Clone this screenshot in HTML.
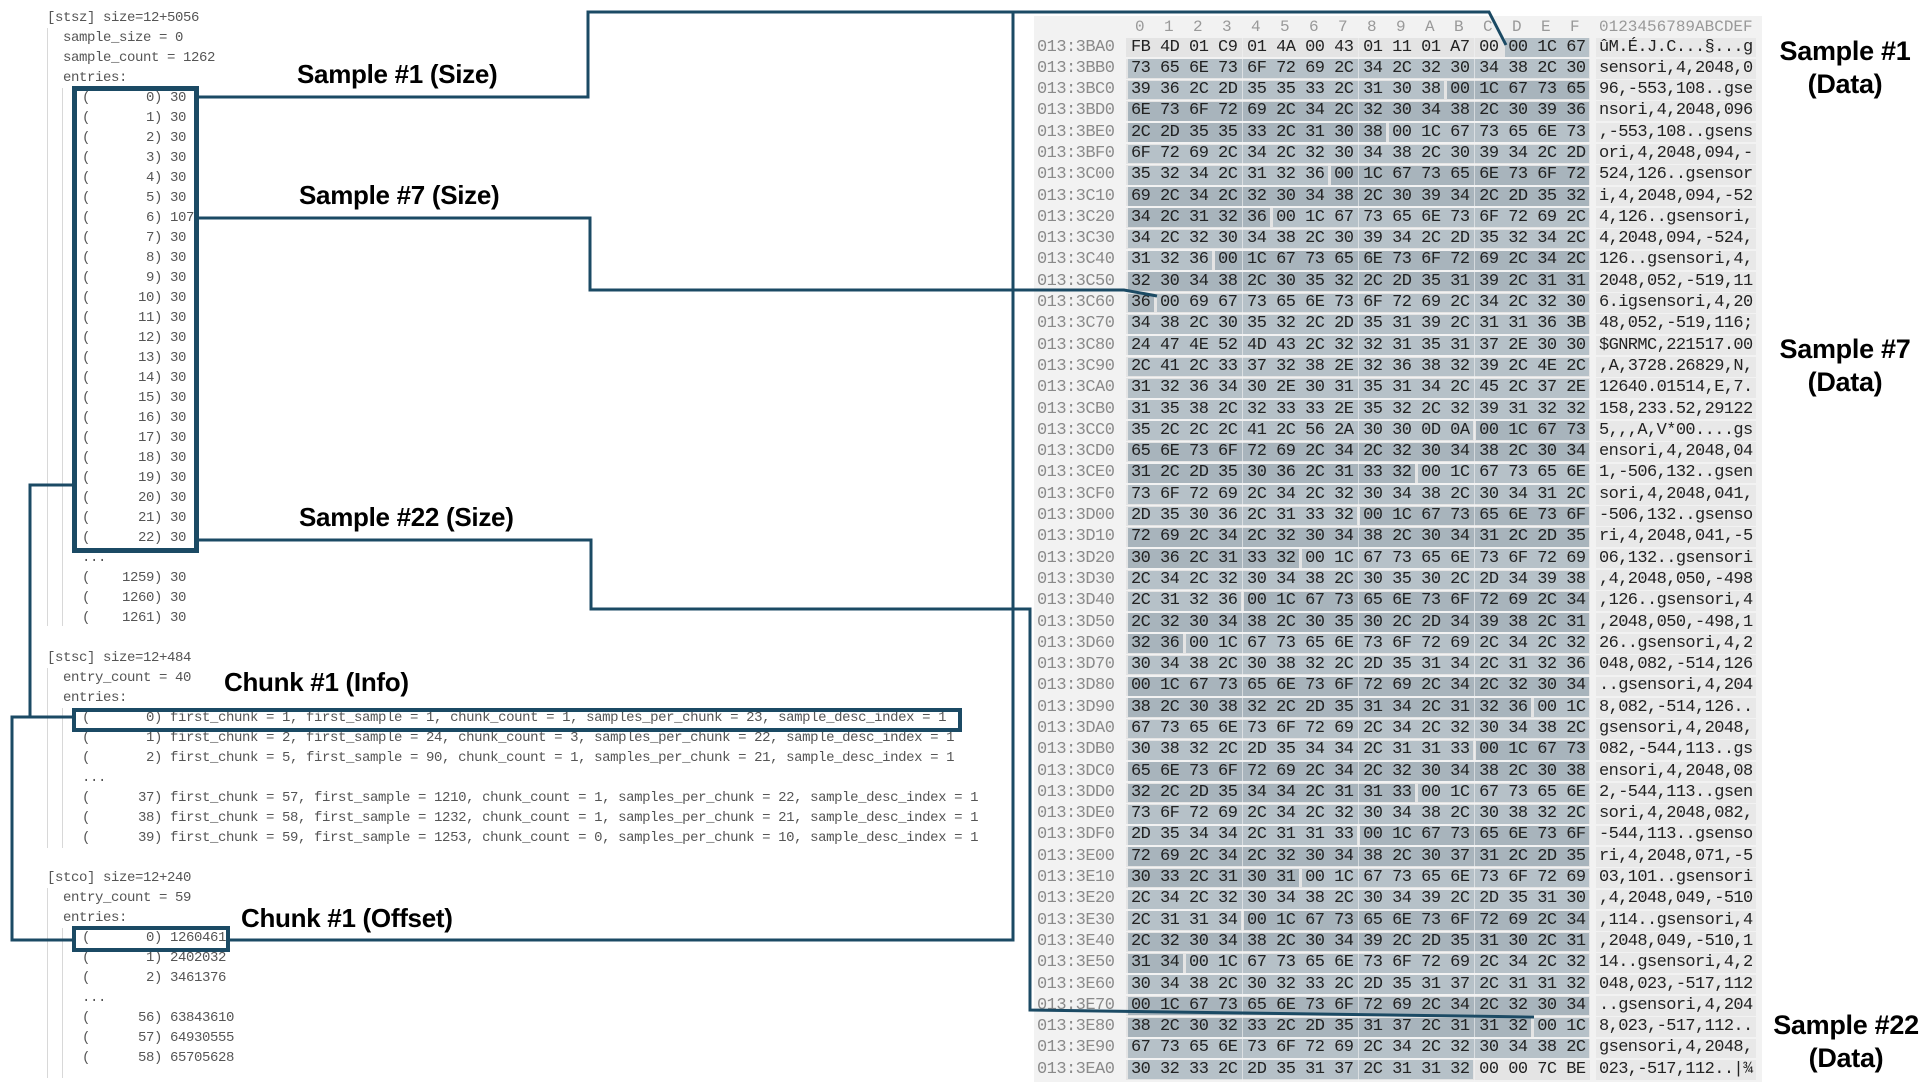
<!DOCTYPE html>
<html><head><meta charset="utf-8">
<style>
*{margin:0;padding:0;box-sizing:border-box}
body{width:1928px;height:1082px;background:#fff;position:relative;overflow:hidden;font-family:"Liberation Mono",monospace}
.t{position:absolute;font-size:14px;letter-spacing:-0.4px;line-height:20px;color:#555;white-space:pre}
.g{position:absolute;width:1px;background:#d8d8d8}
.box{position:absolute;border:5px solid #1b4a64}
.lb{position:absolute;font-family:"Liberation Sans",sans-serif;font-weight:bold;font-size:26px;line-height:30px;color:#000;white-space:nowrap;letter-spacing:-0.3px}
.rl{position:absolute;font-family:"Liberation Sans",sans-serif;font-weight:bold;font-size:27px;line-height:33px;color:#000;text-align:center;width:160px;letter-spacing:-0.3px}
#panel{position:absolute;left:1034px;top:16px;width:728px;height:1066px;background:#f2f2f2}
#hl{position:absolute;left:0;top:0}
#rows{position:absolute;left:0;top:36.5px}
.r{position:relative;height:21.3px;line-height:21.3px;font-size:17px;white-space:pre}
.a{position:absolute;left:1037px;color:#8a8a8a;letter-spacing:-0.53px}
.h{position:absolute;left:1131px;color:#222;letter-spacing:-0.53px}
.s{position:absolute;left:1599px;color:#222;letter-spacing:-0.6px}
.hd{position:absolute;top:16px;line-height:22px;font-size:16px;color:#999}
</style></head><body>
<div id="panel"></div>
<div id="hl"></div>

<div class="g" style="left:47px;top:28px;height:598px"></div>
<div class="g" style="left:62px;top:88px;height:538px"></div>
<div class="g" style="left:47px;top:668px;height:180px"></div>
<div class="g" style="left:62px;top:708px;height:140px"></div>
<div class="g" style="left:47px;top:888px;height:190px"></div>
<div class="g" style="left:62px;top:928px;height:150px"></div>

<div class="t" style="left:47px;top:8px">[stsz] size=12+5056</div>
<div class="t" style="left:63px;top:28px">sample_size = 0
sample_count = 1262
entries:</div>
<div class="t" style="left:82px;top:88px">(       0) 30
(       1) 30
(       2) 30
(       3) 30
(       4) 30
(       5) 30
(       6) 107
(       7) 30
(       8) 30
(       9) 30
(      10) 30
(      11) 30
(      12) 30
(      13) 30
(      14) 30
(      15) 30
(      16) 30
(      17) 30
(      18) 30
(      19) 30
(      20) 30
(      21) 30
(      22) 30
...
(    1259) 30
(    1260) 30
(    1261) 30</div>

<div class="t" style="left:47px;top:648px">[stsc] size=12+484</div>
<div class="t" style="left:63px;top:668px">entry_count = 40
entries:</div>
<div class="t" style="left:82px;top:708px">(       0) first_chunk = 1, first_sample = 1, chunk_count = 1, samples_per_chunk = 23, sample_desc_index = 1
(       1) first_chunk = 2, first_sample = 24, chunk_count = 3, samples_per_chunk = 22, sample_desc_index = 1
(       2) first_chunk = 5, first_sample = 90, chunk_count = 1, samples_per_chunk = 21, sample_desc_index = 1
...
(      37) first_chunk = 57, first_sample = 1210, chunk_count = 1, samples_per_chunk = 22, sample_desc_index = 1
(      38) first_chunk = 58, first_sample = 1232, chunk_count = 1, samples_per_chunk = 21, sample_desc_index = 1
(      39) first_chunk = 59, first_sample = 1253, chunk_count = 0, samples_per_chunk = 10, sample_desc_index = 1</div>

<div class="t" style="left:47px;top:868px">[stco] size=12+240</div>
<div class="t" style="left:63px;top:888px">entry_count = 59
entries:</div>
<div class="t" style="left:82px;top:928px">(       0) 1260461
(       1) 2402032
(       2) 3461376
...
(      56) 63843610
(      57) 64930555
(      58) 65705628</div>

<div class="box" style="left:72px;top:86px;width:127px;height:467px"></div>
<div class="box" style="left:72px;top:708px;width:890px;height:24px;border-width:4px"></div>
<div class="box" style="left:72px;top:926px;width:158px;height:26px;border-width:4.5px"></div>

<div class="lb" style="left:297px;top:59px">Sample #1 (Size)</div>
<div class="lb" style="left:299px;top:180px">Sample #7 (Size)</div>
<div class="lb" style="left:299px;top:502px">Sample #22 (Size)</div>
<div class="lb" style="left:224px;top:667px">Chunk #1 (Info)</div>
<div class="lb" style="left:241px;top:903px">Chunk #1 (Offset)</div>

<div class="rl" style="left:1765px;top:35px">Sample #1<br>(Data)</div>
<div class="rl" style="left:1765px;top:333px">Sample #7<br>(Data)</div>
<div class="rl" style="left:1766px;top:1009px">Sample #22<br>(Data)</div>

<div class="hd" style="left:1135px">0</div><div class="hd" style="left:1164px">1</div><div class="hd" style="left:1193px">2</div><div class="hd" style="left:1222px">3</div><div class="hd" style="left:1251px">4</div><div class="hd" style="left:1280px">5</div><div class="hd" style="left:1309px">6</div><div class="hd" style="left:1338px">7</div><div class="hd" style="left:1367px">8</div><div class="hd" style="left:1396px">9</div><div class="hd" style="left:1425px">A</div><div class="hd" style="left:1454px">B</div><div class="hd" style="left:1483px">C</div><div class="hd" style="left:1512px">D</div><div class="hd" style="left:1541px">E</div><div class="hd" style="left:1570px">F</div>
<div class="hd" style="left:1599px">0123456789ABCDEF</div>

<div id="rows">
<div class="r"><span class="a">013:3BA0</span><span class="h">FB 4D 01 C9 01 4A 00 43 01 11 01 A7 00 00 1C 67</span><span class="s">ûM.É.J.C...§...g</span></div>
<div class="r"><span class="a">013:3BB0</span><span class="h">73 65 6E 73 6F 72 69 2C 34 2C 32 30 34 38 2C 30</span><span class="s">sensori,4,2048,0</span></div>
<div class="r"><span class="a">013:3BC0</span><span class="h">39 36 2C 2D 35 35 33 2C 31 30 38 00 1C 67 73 65</span><span class="s">96,-553,108..gse</span></div>
<div class="r"><span class="a">013:3BD0</span><span class="h">6E 73 6F 72 69 2C 34 2C 32 30 34 38 2C 30 39 36</span><span class="s">nsori,4,2048,096</span></div>
<div class="r"><span class="a">013:3BE0</span><span class="h">2C 2D 35 35 33 2C 31 30 38 00 1C 67 73 65 6E 73</span><span class="s">,-553,108..gsens</span></div>
<div class="r"><span class="a">013:3BF0</span><span class="h">6F 72 69 2C 34 2C 32 30 34 38 2C 30 39 34 2C 2D</span><span class="s">ori,4,2048,094,-</span></div>
<div class="r"><span class="a">013:3C00</span><span class="h">35 32 34 2C 31 32 36 00 1C 67 73 65 6E 73 6F 72</span><span class="s">524,126..gsensor</span></div>
<div class="r"><span class="a">013:3C10</span><span class="h">69 2C 34 2C 32 30 34 38 2C 30 39 34 2C 2D 35 32</span><span class="s">i,4,2048,094,-52</span></div>
<div class="r"><span class="a">013:3C20</span><span class="h">34 2C 31 32 36 00 1C 67 73 65 6E 73 6F 72 69 2C</span><span class="s">4,126..gsensori,</span></div>
<div class="r"><span class="a">013:3C30</span><span class="h">34 2C 32 30 34 38 2C 30 39 34 2C 2D 35 32 34 2C</span><span class="s">4,2048,094,-524,</span></div>
<div class="r"><span class="a">013:3C40</span><span class="h">31 32 36 00 1C 67 73 65 6E 73 6F 72 69 2C 34 2C</span><span class="s">126..gsensori,4,</span></div>
<div class="r"><span class="a">013:3C50</span><span class="h">32 30 34 38 2C 30 35 32 2C 2D 35 31 39 2C 31 31</span><span class="s">2048,052,-519,11</span></div>
<div class="r"><span class="a">013:3C60</span><span class="h">36 00 69 67 73 65 6E 73 6F 72 69 2C 34 2C 32 30</span><span class="s">6.igsensori,4,20</span></div>
<div class="r"><span class="a">013:3C70</span><span class="h">34 38 2C 30 35 32 2C 2D 35 31 39 2C 31 31 36 3B</span><span class="s">48,052,-519,116;</span></div>
<div class="r"><span class="a">013:3C80</span><span class="h">24 47 4E 52 4D 43 2C 32 32 31 35 31 37 2E 30 30</span><span class="s">$GNRMC,221517.00</span></div>
<div class="r"><span class="a">013:3C90</span><span class="h">2C 41 2C 33 37 32 38 2E 32 36 38 32 39 2C 4E 2C</span><span class="s">,A,3728.26829,N,</span></div>
<div class="r"><span class="a">013:3CA0</span><span class="h">31 32 36 34 30 2E 30 31 35 31 34 2C 45 2C 37 2E</span><span class="s">12640.01514,E,7.</span></div>
<div class="r"><span class="a">013:3CB0</span><span class="h">31 35 38 2C 32 33 33 2E 35 32 2C 32 39 31 32 32</span><span class="s">158,233.52,29122</span></div>
<div class="r"><span class="a">013:3CC0</span><span class="h">35 2C 2C 2C 41 2C 56 2A 30 30 0D 0A 00 1C 67 73</span><span class="s">5,,,A,V*00....gs</span></div>
<div class="r"><span class="a">013:3CD0</span><span class="h">65 6E 73 6F 72 69 2C 34 2C 32 30 34 38 2C 30 34</span><span class="s">ensori,4,2048,04</span></div>
<div class="r"><span class="a">013:3CE0</span><span class="h">31 2C 2D 35 30 36 2C 31 33 32 00 1C 67 73 65 6E</span><span class="s">1,-506,132..gsen</span></div>
<div class="r"><span class="a">013:3CF0</span><span class="h">73 6F 72 69 2C 34 2C 32 30 34 38 2C 30 34 31 2C</span><span class="s">sori,4,2048,041,</span></div>
<div class="r"><span class="a">013:3D00</span><span class="h">2D 35 30 36 2C 31 33 32 00 1C 67 73 65 6E 73 6F</span><span class="s">-506,132..gsenso</span></div>
<div class="r"><span class="a">013:3D10</span><span class="h">72 69 2C 34 2C 32 30 34 38 2C 30 34 31 2C 2D 35</span><span class="s">ri,4,2048,041,-5</span></div>
<div class="r"><span class="a">013:3D20</span><span class="h">30 36 2C 31 33 32 00 1C 67 73 65 6E 73 6F 72 69</span><span class="s">06,132..gsensori</span></div>
<div class="r"><span class="a">013:3D30</span><span class="h">2C 34 2C 32 30 34 38 2C 30 35 30 2C 2D 34 39 38</span><span class="s">,4,2048,050,-498</span></div>
<div class="r"><span class="a">013:3D40</span><span class="h">2C 31 32 36 00 1C 67 73 65 6E 73 6F 72 69 2C 34</span><span class="s">,126..gsensori,4</span></div>
<div class="r"><span class="a">013:3D50</span><span class="h">2C 32 30 34 38 2C 30 35 30 2C 2D 34 39 38 2C 31</span><span class="s">,2048,050,-498,1</span></div>
<div class="r"><span class="a">013:3D60</span><span class="h">32 36 00 1C 67 73 65 6E 73 6F 72 69 2C 34 2C 32</span><span class="s">26..gsensori,4,2</span></div>
<div class="r"><span class="a">013:3D70</span><span class="h">30 34 38 2C 30 38 32 2C 2D 35 31 34 2C 31 32 36</span><span class="s">048,082,-514,126</span></div>
<div class="r"><span class="a">013:3D80</span><span class="h">00 1C 67 73 65 6E 73 6F 72 69 2C 34 2C 32 30 34</span><span class="s">..gsensori,4,204</span></div>
<div class="r"><span class="a">013:3D90</span><span class="h">38 2C 30 38 32 2C 2D 35 31 34 2C 31 32 36 00 1C</span><span class="s">8,082,-514,126..</span></div>
<div class="r"><span class="a">013:3DA0</span><span class="h">67 73 65 6E 73 6F 72 69 2C 34 2C 32 30 34 38 2C</span><span class="s">gsensori,4,2048,</span></div>
<div class="r"><span class="a">013:3DB0</span><span class="h">30 38 32 2C 2D 35 34 34 2C 31 31 33 00 1C 67 73</span><span class="s">082,-544,113..gs</span></div>
<div class="r"><span class="a">013:3DC0</span><span class="h">65 6E 73 6F 72 69 2C 34 2C 32 30 34 38 2C 30 38</span><span class="s">ensori,4,2048,08</span></div>
<div class="r"><span class="a">013:3DD0</span><span class="h">32 2C 2D 35 34 34 2C 31 31 33 00 1C 67 73 65 6E</span><span class="s">2,-544,113..gsen</span></div>
<div class="r"><span class="a">013:3DE0</span><span class="h">73 6F 72 69 2C 34 2C 32 30 34 38 2C 30 38 32 2C</span><span class="s">sori,4,2048,082,</span></div>
<div class="r"><span class="a">013:3DF0</span><span class="h">2D 35 34 34 2C 31 31 33 00 1C 67 73 65 6E 73 6F</span><span class="s">-544,113..gsenso</span></div>
<div class="r"><span class="a">013:3E00</span><span class="h">72 69 2C 34 2C 32 30 34 38 2C 30 37 31 2C 2D 35</span><span class="s">ri,4,2048,071,-5</span></div>
<div class="r"><span class="a">013:3E10</span><span class="h">30 33 2C 31 30 31 00 1C 67 73 65 6E 73 6F 72 69</span><span class="s">03,101..gsensori</span></div>
<div class="r"><span class="a">013:3E20</span><span class="h">2C 34 2C 32 30 34 38 2C 30 34 39 2C 2D 35 31 30</span><span class="s">,4,2048,049,-510</span></div>
<div class="r"><span class="a">013:3E30</span><span class="h">2C 31 31 34 00 1C 67 73 65 6E 73 6F 72 69 2C 34</span><span class="s">,114..gsensori,4</span></div>
<div class="r"><span class="a">013:3E40</span><span class="h">2C 32 30 34 38 2C 30 34 39 2C 2D 35 31 30 2C 31</span><span class="s">,2048,049,-510,1</span></div>
<div class="r"><span class="a">013:3E50</span><span class="h">31 34 00 1C 67 73 65 6E 73 6F 72 69 2C 34 2C 32</span><span class="s">14..gsensori,4,2</span></div>
<div class="r"><span class="a">013:3E60</span><span class="h">30 34 38 2C 30 32 33 2C 2D 35 31 37 2C 31 31 32</span><span class="s">048,023,-517,112</span></div>
<div class="r"><span class="a">013:3E70</span><span class="h">00 1C 67 73 65 6E 73 6F 72 69 2C 34 2C 32 30 34</span><span class="s">..gsensori,4,204</span></div>
<div class="r"><span class="a">013:3E80</span><span class="h">38 2C 30 32 33 2C 2D 35 31 37 2C 31 31 32 00 1C</span><span class="s">8,023,-517,112..</span></div>
<div class="r"><span class="a">013:3E90</span><span class="h">67 73 65 6E 73 6F 72 69 2C 34 2C 32 30 34 38 2C</span><span class="s">gsensori,4,2048,</span></div>
<div class="r"><span class="a">013:3EA0</span><span class="h">30 32 33 2C 2D 35 31 37 2C 31 31 32 00 00 7C BE</span><span class="s">023,-517,112..|¾</span></div>
</div>

<svg width="1928" height="1082" style="position:absolute;left:0;top:0" fill="none" stroke="#1b4a64" stroke-width="3">
<polyline points="199,97 588,97 588,12 1489,12 1506,45"/>
<polyline points="230,940 1013,940 1013,12"/>
<polyline points="199,218 590,218 590,290 1124,290 1157,296"/>
<polyline points="199,540 591,540 591,609 1030,609 1030,1010 1534,1017"/>
<polyline points="72,485 30,485 30,717"/>
<polyline points="72,717 12,717 12,940 72,940"/>
</svg>

<script>
(function(){
var hl=document.getElementById('hl'),h='';
var T0=36.5,RH=21.3,X0=1126,CW=29;
for(var i=0;i<49;i++){
 var y=T0+RH*i;
 h+='<div style="position:absolute;left:'+X0+'px;top:'+(y+1)+'px;width:464px;height:'+(RH-1.5)+'px;background:#e4e4e4"></div>';
 h+='<div style="position:absolute;left:1596px;top:'+(y+1)+'px;width:160px;height:'+(RH-1.5)+'px;background:#e8e8e8"></div>';
}
var starts=[0x3BAD];
var sizes=[30,30,30,30,30,30,107,30,30,30,30,30,30,30,30,30,30,30,30,30,30,30,30];
var s=0x3BAD;for(var k=0;k<sizes.length;k++){s+=sizes[k];starts.push(s);}
for(var k=0;k<sizes.length;k++){
 var a=starts[k],b=starts[k+1]-1,col=(k%2==0)?'#b6c1c8':'#a8b4bc';
 for(var r=(a>>4);r<=(b>>4);r++){
  var c0=Math.max(a,r*16)-r*16,c1=Math.min(b,r*16+15)-r*16,i=r-0x3BA;
  var y=T0+RH*i;
  h+='<div style="position:absolute;left:'+(X0+CW*c0+2)+'px;top:'+(y+1.5)+'px;width:'+(CW*(c1-c0+1)-3)+'px;height:'+(RH-2.5)+'px;background:'+col+'"></div>';
 }
}
for(var g=1;g<4;g++){h+='<div style="position:absolute;left:'+(X0+116*g)+'px;top:36px;width:1px;height:1046px;background:#f4f4f4;opacity:.6"></div>';}
hl.innerHTML=h;
})();
</script>
</body></html>
